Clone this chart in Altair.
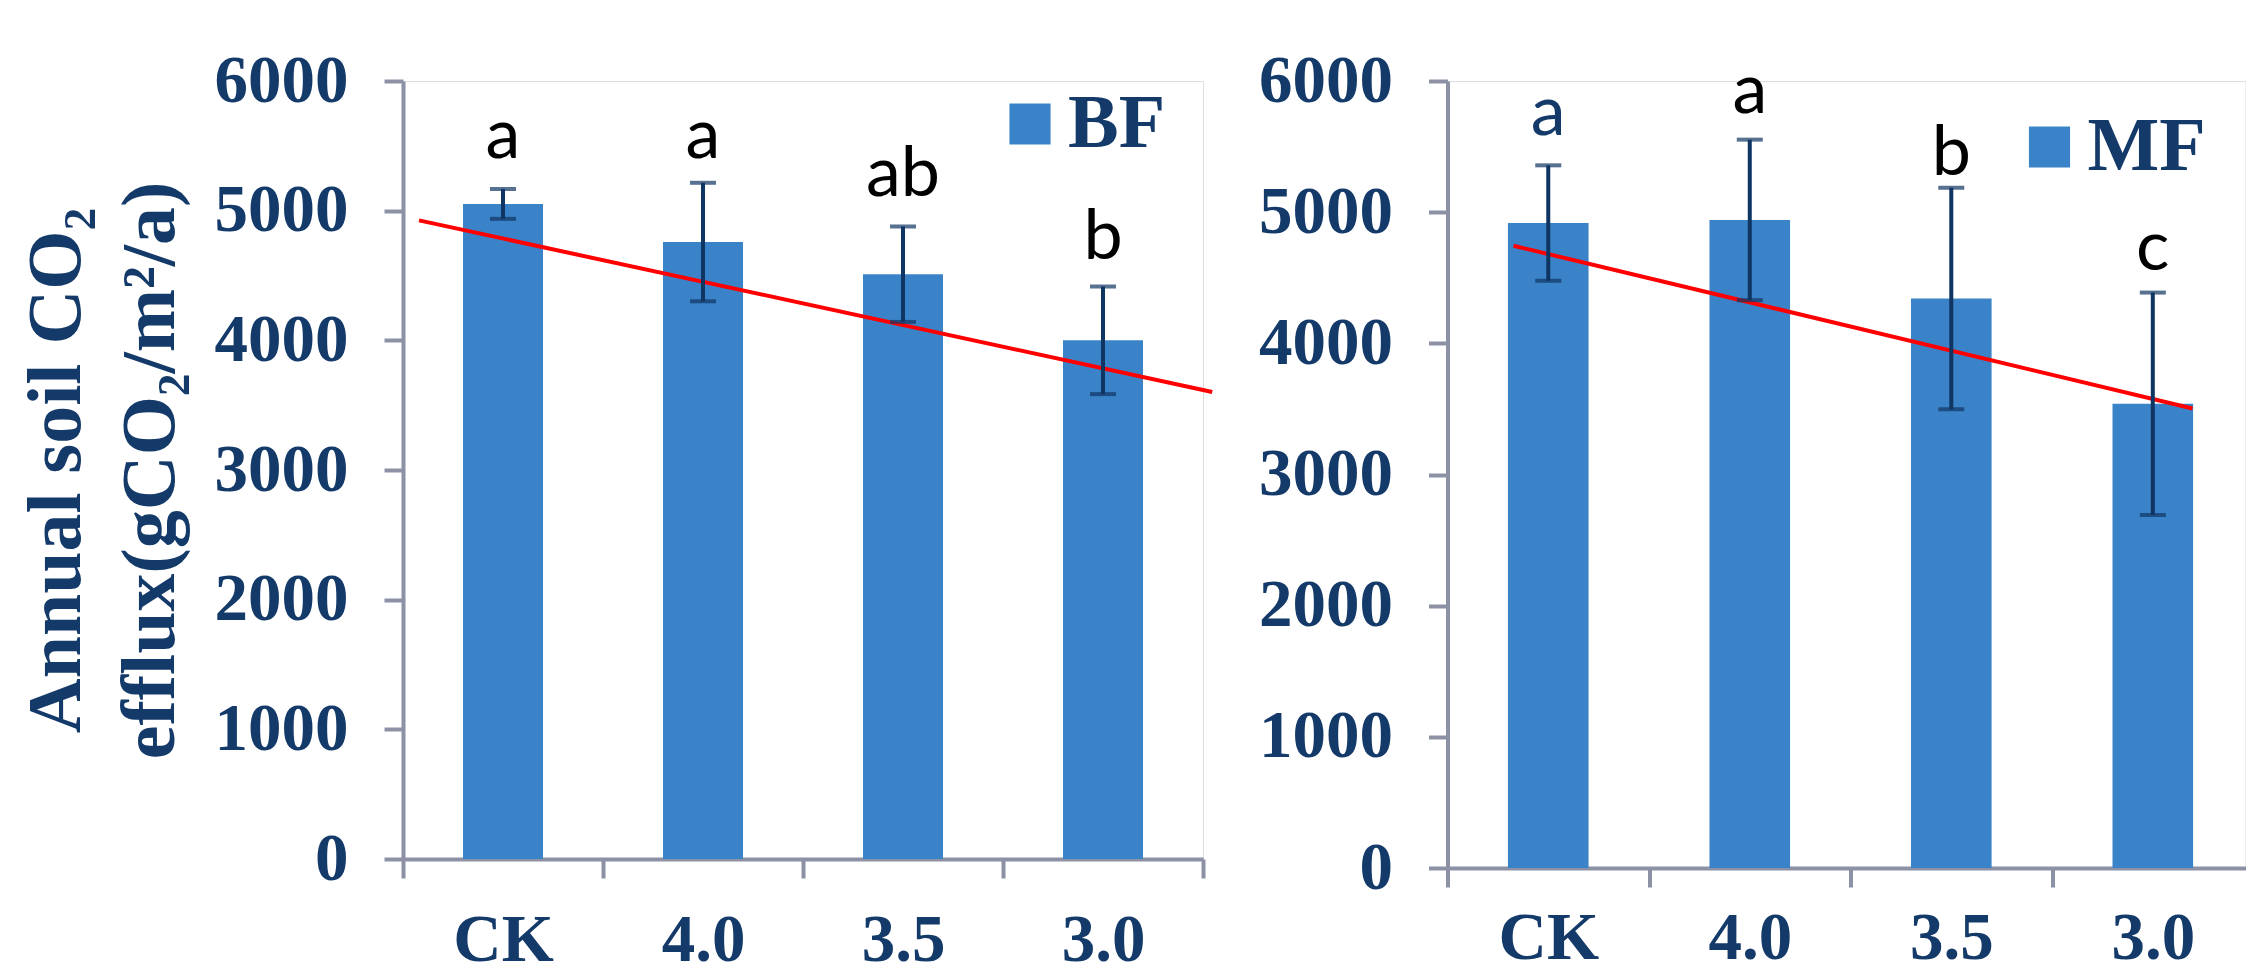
import altair as alt
import pandas as pd

categories = ["CK", "4.0", "3.5", "3.0"]

bf_mean = [5052, 4758, 4510, 4000]
bf_sd = [115, 457, 368, 415]
bf_letters = ["a", "a", "ab", "b"]
bf_letter_y = [5408, 5408, 5114, 4624]
bf_trend_x = [0.58, 4.546]
bf_trend_y = [4925, 3602]

mf_mean = [4917, 4941, 4342, 3539]
mf_sd = [440, 612, 845, 848]
mf_letters = ["a", "a", "b", "c"]
mf_letter_y = [5590, 5757, 5283, 4558]
mf_trend_x = [0.828, 4.197]
mf_trend_y = [4744, 3503]

y_ticks = [0, 1000, 2000, 3000, 4000, 5000, 6000]

BAR = "#3B83C8"
NAVY = "#143A6A"
ERR = "#0F3562"
AXIS = "#8C91A5"
SERIF = "Liberation Serif"


def panel(name, means, sds, letters, letter_y, tx, ty, xmax, width, height, legend_x, legend_y,
          title, xlabel_pad):
    df = pd.DataFrame({
        "cat": categories,
        "idx": list(range(1, len(categories) + 1)),
        "mean": means,
        "sd": sds,
        "letter": letters,
        "ly": letter_y,
        "panel": name,
    })
    tr = pd.DataFrame({"x": tx, "y": ty})

    label_expr = "[" + ",".join("'" + c + "'" for c in categories) + "][datum.value - 0.5] || ''"
    xscale = alt.Scale(domain=[0.5, xmax], nice=False, zero=False)
    yscale = alt.Scale(domain=[0, 6000], nice=False)

    xaxis = alt.Axis(values=[0.5, 1.5, 2.5, 3.5, 4.5], labelExpr=label_expr,
                     labelOffset=width / (xmax - 0.5) / 2, labelFont=SERIF, labelFontWeight="bold",
                     labelFontSize=67, labelColor=NAVY, labelPadding=xlabel_pad,
                     labelOverlap=False, labelBound=False, labelFlush=False,
                     domainColor=AXIS, domainWidth=4, tickColor=AXIS, tickWidth=4,
                     tickSize=19, grid=False, title=None)
    yargs = dict(values=y_ticks, format="d", labelFont=SERIF, labelFontWeight="bold",
                 labelFontSize=67, labelColor=NAVY, labelPadding=36,
                 domainColor=AXIS, domainWidth=4, tickColor=AXIS, tickWidth=4,
                 tickSize=19, grid=False)
    if title is not None:
        yargs.update(title=title, titleFont=SERIF, titleFontWeight="bold",
                     titleFontSize=76, titleColor=NAVY, titleLineHeight=94,
                     titlePadding=25)
    else:
        yargs.update(title=None)
    yaxis = alt.Axis(**yargs)

    base = alt.Chart(df)
    bars = base.transform_calculate(
        x0="datum.idx - 0.2", x1="datum.idx + 0.2"
    ).mark_bar(stroke=None).encode(
        x=alt.X("x0:Q", scale=xscale, axis=xaxis),
        x2="x1:Q",
        y=alt.Y("mean:Q", scale=yscale, axis=yaxis),
        y2=alt.datum(0),
        color=alt.Color("panel:N", scale=alt.Scale(range=[BAR]),
                        legend=alt.Legend(orient="none", legendX=legend_x, legendY=legend_y,
                                          title=None, symbolType="square", symbolSize=1690,
                                          symbolStrokeWidth=0, labelFont=SERIF,
                                          labelFontWeight="bold", labelFontSize=76,
                                          labelColor=NAVY, labelOffset=0, padding=0,
                                          labelLimit=400)),
    )
    err = base.transform_calculate(
        lo="datum.mean - datum.sd", hi="datum.mean + datum.sd"
    )
    stem = err.mark_rule(color=ERR, strokeWidth=4).encode(
        x=alt.X("idx:Q", scale=xscale), y=alt.Y("lo:Q", scale=yscale), y2="hi:Q")
    cap_hi = err.mark_tick(color=ERR, orient="horizontal", size=26, thickness=4).encode(
        x=alt.X("idx:Q", scale=xscale), y=alt.Y("hi:Q", scale=yscale))
    cap_lo = err.mark_tick(color=ERR, orient="horizontal", size=26, thickness=4).encode(
        x=alt.X("idx:Q", scale=xscale), y=alt.Y("lo:Q", scale=yscale))
    trend = alt.Chart(tr).mark_line(color="#FF0000", strokeWidth=4, clip=False).encode(
        x=alt.X("x:Q", scale=xscale), y=alt.Y("y:Q", scale=yscale))
    text = base.mark_text(font="Lato", fontSize=70, baseline="alphabetic", align="center").encode(
        x=alt.X("idx:Q", scale=xscale), y=alt.Y("ly:Q", scale=yscale), text="letter:N",
        color=alt.condition("datum.panel == 'MF' && datum.idx == 1", alt.value(NAVY), alt.value("#000000")))
    return alt.layer(bars, trend, stem, cap_hi, cap_lo, text).properties(width=width, height=height)


left = panel("BF", bf_mean, bf_sd, bf_letters, bf_letter_y, bf_trend_x, bf_trend_y,
             4.5, 800, 778, 589, 5, ["Annual soil CO₂", "efflux(gCO₂/m²/a)"], 29)
right = panel("MF", mf_mean, mf_sd, mf_letters, mf_letter_y, mf_trend_x, mf_trend_y,
              4.46, 798, 787, 564, 28, None, 18)

chart = alt.hconcat(left, right, spacing=244.5, bounds="flush").resolve_scale(color="independent").properties(
    padding={"left": 9, "top": 38, "right": 0, "bottom": 0}
).configure_view(stroke=None).configure(background="white")

chart.save("out.html", embed_options={"renderer": "svg", "actions": False})
